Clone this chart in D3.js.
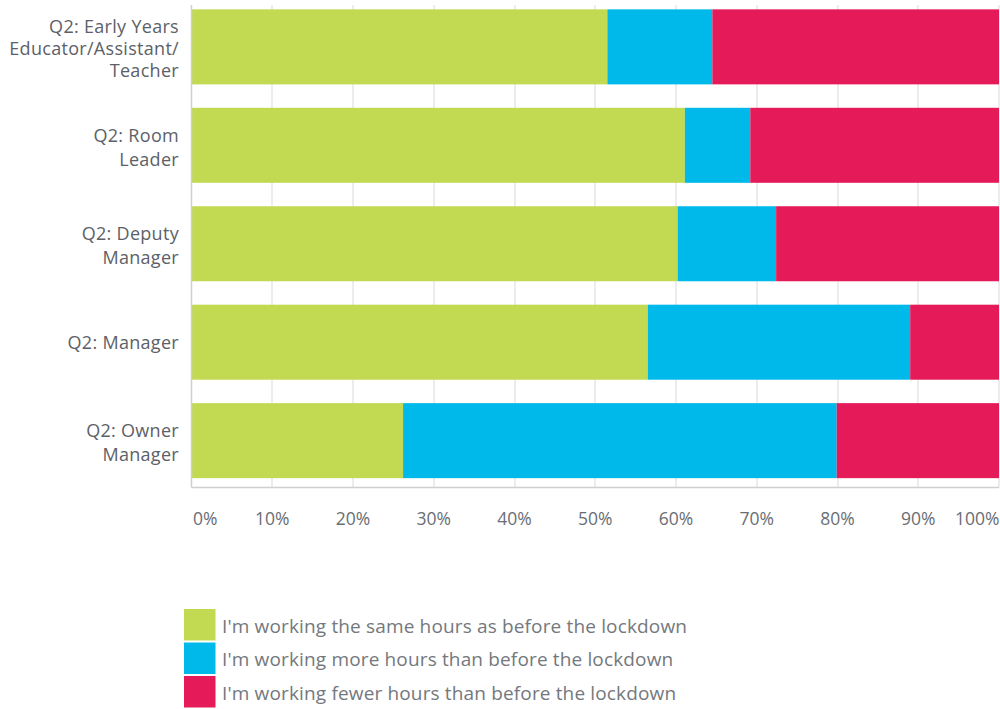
<!DOCTYPE html>
<html>
<head>
<meta charset="utf-8">
<script src="https://cdn.jsdelivr.net/npm/d3@7"></script>
<style>
  html, body { margin: 0; padding: 0; background: #ffffff; }
  svg { display: block; }
  text { font-family: "Open Sans", "Noto Sans", sans-serif; }
</style>
</head>
<body>
<svg id="chart" width="1000" height="709"></svg>
<script>
// Job roles (rows, top to bottom) and how their labels wrap
const categories = [
  "Q2: Early Years Educator/Assistant/Teacher",
  "Q2: Room Leader",
  "Q2: Deputy Manager",
  "Q2: Manager",
  "Q2: Owner Manager"
];
const categoryLines = [
  ["Q2: Early Years", "Educator/Assistant/", "Teacher"],
  ["Q2: Room", "Leader"],
  ["Q2: Deputy", "Manager"],
  ["Q2: Manager"],
  ["Q2: Owner", "Manager"]
];

// Share of respondents (%) per answer
const sameHours  = [51.5, 61.1, 60.2, 56.5, 26.2];
const moreHours  = [13.0,  8.1, 12.2, 32.5, 53.7];
const fewerHours = [35.5, 30.8, 27.6, 11.0, 20.1];

const seriesNames = [
  "I'm working the same hours as before the lockdown",
  "I'm working more hours than before the lockdown",
  "I'm working fewer hours than before the lockdown"
];
const seriesColors = ["#c2d952", "#00b9eb", "#e51b59"];

const tickValues = [0, 10, 20, 30, 40, 50, 60, 70, 80, 90, 100];
const tickLabels = ["0%", "10%", "20%", "30%", "40%", "50%", "60%", "70%", "80%", "90%", "100%"];

// Build rows for the stack layout
const rows = categories.map((c, i) => ({
  category: c, same: sameHours[i], more: moreHours[i], fewer: fewerHours[i]
}));
const keys = ["same", "more", "fewer"];
const stacked = d3.stack().keys(keys)(rows);

const svg = d3.select("#chart");
const plotLeft = 191.5, plotRight = 999, plotTop = 0, plotBottom = 487.5;

const x = d3.scaleLinear().domain([0, 100]).range([plotLeft, plotRight]);
const y = d3.scaleBand().domain(categories)
  .range([plotTop, plotBottom])
  .paddingInner(0.238)
  .paddingOuter(0.095);

// Vertical gridlines
svg.append("g").selectAll("line")
  .data(tickValues.slice(1))
  .join("line")
  .attr("x1", d => Math.round(x(d)))
  .attr("x2", d => Math.round(x(d)))
  .attr("y1", 5)
  .attr("y2", plotBottom)
  .attr("stroke", "#ececec")
  .attr("stroke-width", 2);

// Stacked bars
svg.append("g").selectAll("g")
  .data(stacked)
  .join("g")
  .attr("fill", (d, i) => seriesColors[i])
  .selectAll("rect")
  .data(d => d)
  .join("rect")
  .attr("x", d => x(d[0]))
  .attr("width", d => x(d[1]) - x(d[0]))
  .attr("y", d => y(d.data.category))
  .attr("height", y.bandwidth());

// Axis lines
svg.append("line")
  .attr("x1", plotLeft).attr("x2", plotLeft)
  .attr("y1", 5).attr("y2", plotBottom)
  .attr("stroke", "#cfcfcf").attr("stroke-width", 1.5);
svg.append("line")
  .attr("x1", plotLeft).attr("x2", plotRight)
  .attr("y1", plotBottom).attr("y2", plotBottom)
  .attr("stroke", "#cfcfcf").attr("stroke-width", 1.5);

// Category labels (wrapped, right aligned)
const labelG = svg.append("g")
  .attr("fill", "#5c6168")
  .attr("font-size", "18px")
  .attr("letter-spacing", "0.3px")
  .attr("text-anchor", "end");
categories.forEach((c, i) => {
  const lines = categoryLines[i];
  const lh = lines.length > 2 ? 22 : 24;
  const cy = y(c) + y.bandwidth() / 2;
  const first = cy + 6.8 - (lines.length - 1) * lh / 2 + (lines.length > 1 ? 1.5 : 0);
  lines.forEach((t, j) => {
    labelG.append("text")
      .attr("x", 179)
      .attr("y", first + j * lh)
      .text(t);
  });
});

// Percentage tick labels, kept inside the plot at both ends
const tickG = svg.append("g")
  .attr("fill", "#696e74")
  .attr("font-size", "17.5px");
tickValues.forEach((v, i) => {
  let anchor = "middle", tx = x(v);
  if (i === 0) { anchor = "start"; tx = x(v) + 1.5; }
  if (i === tickValues.length - 1) { anchor = "end"; tx = x(v) + 0.5; }
  tickG.append("text")
    .attr("x", tx)
    .attr("y", 524.5)
    .attr("text-anchor", anchor)
    .text(tickLabels[i]);
});

// Legend
const legend = svg.append("g").attr("transform", "translate(184,609)");
seriesNames.forEach((name, i) => {
  const g = legend.append("g").attr("transform", `translate(0,${i * 33.5})`);
  g.append("rect")
    .attr("width", 31.5).attr("height", 31.5)
    .attr("fill", seriesColors[i]);
  g.append("text")
    .attr("x", 38)
    .attr("y", 23.5)
    .attr("fill", "#74787d")
    .attr("font-size", "19px")
    .attr("letter-spacing", "0.15px")
    .text(name);
});
</script>
</body>
</html>
